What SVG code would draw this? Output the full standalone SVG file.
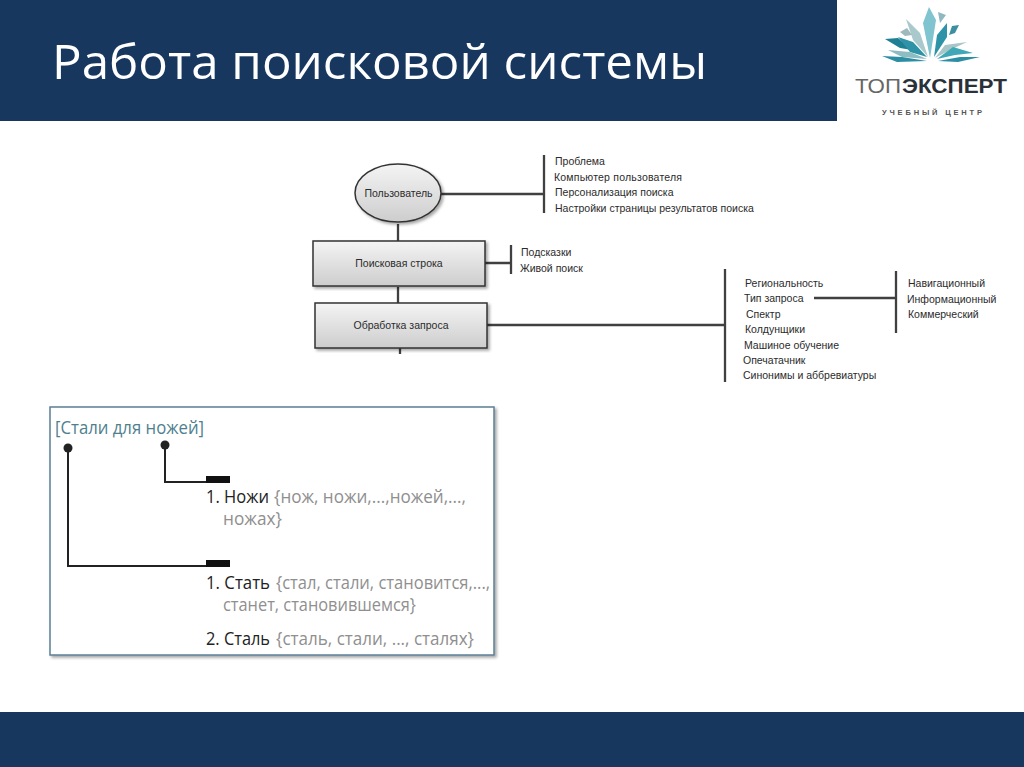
<svg xmlns="http://www.w3.org/2000/svg" width="1024" height="767" viewBox="0 0 1024 767">
<style>
.bar{fill:#17375e}
.t{font-family:"Liberation Sans",Arial,sans-serif;font-size:10.5px;fill:#2b2b2b}
.l{stroke:#404040;stroke-width:2.3;fill:none}
.box{fill:url(#g);stroke:#333;stroke-width:1.5}
.s{font-family:"Open Sans",sans-serif;font-size:17.5px;fill:#8f8f8f}
.b{font-family:"Open Sans",sans-serif;font-size:18px;fill:#222}
.d{fill:#222}
.k{stroke:#222;stroke-width:2;fill:none}
.h{fill:#111}
</style>
<defs>
<linearGradient id="g" x1="0" y1="0" x2="0" y2="1"><stop offset="0" stop-color="#f4f4f4"/><stop offset="1" stop-color="#cdcdcd"/></linearGradient>
<filter id="sh" x="-5%" y="-5%" width="112%" height="115%"><feDropShadow dx="2" dy="2" stdDeviation="1.5" flood-color="#000" flood-opacity=".35"/></filter>
</defs>
<rect width="1024" height="767" fill="#fff"/>
<g id="header"><rect class="bar" width="837" height="121"/>
<text x="52" y="79" font-family="Open Sans,sans-serif" font-size="48" fill="#fff" textLength="655" lengthAdjust="spacingAndGlyphs">Работа поисковой системы</text></g>
<rect id="footer" class="bar" y="712" width="1024" height="55"/>
<g id="logo">
<polygon points="929,7 936,20 930,58 923,23" fill="#7fc4cf"/>
<polygon points="938,12 946,15 940,23" fill="#8fb8c0"/>
<polygon points="906,19 920,33 928,57 913,40" fill="#a9c9cc"/>
<polygon points="947,23 947,37 934,57 937,35" fill="#2f93a8"/>
<polygon points="900,32 907,28 912,35 905,36" fill="#9fb9bd"/>
<polygon points="959,25 955,33 949,35 952,26" fill="#3c8f9f"/>
<polygon points="885,39 898,38 912,50 900,48" fill="#1f7f95"/>
<polygon points="898,37 913,42 927,57 910,52" fill="#2f93a8"/>
<polygon points="967,42 950,50 935,58 945,45" fill="#a8c6c8"/>
<polygon points="888,50 910,52 927,59 902,57" fill="#8dbcc2"/>
<polygon points="973,53 955,55 937,59 953,47" fill="#3fa7b5"/>
<polygon points="882,56 902,57 927,61 897,62" fill="#2b8ea3"/>
<polygon points="980,57 960,57 938,61 958,62" fill="#2b8ea3"/>
<text x="855" y="93" font-family="Liberation Sans,sans-serif" font-size="19.5" fill="#666" textLength="46" lengthAdjust="spacingAndGlyphs">ТОП</text>
<text x="902" y="93" font-family="Liberation Sans,sans-serif" font-size="19.5" fill="#2b3138" font-weight="700" textLength="105" lengthAdjust="spacingAndGlyphs">ЭКСПЕРТ</text>
<text x="882" y="115" font-family="Liberation Sans,sans-serif" font-size="7.5" fill="#555" font-weight="700" textLength="100">УЧЕБНЫЙ ЦЕНТР</text>
</g>
<g id="connectors">
<path class="l" d="M398 224V241M398 287V303M400 348V354M441 194H544M544 155V213M485 263H511M511 245V274M487 325H725M725 269V382M814 298H896M896 271V333"/>
</g>
<g id="n1"><ellipse cx="398" cy="193" rx="43" ry="29" fill="url(#g)" stroke="#333" stroke-width="1.5" filter="url(#sh)"/><text class="t" x="398.500" y="196.500" text-anchor="middle">Пользователь</text></g>
<g id="n2"><rect class="box" x="313" y="241" width="172" height="45" filter="url(#sh)"/><text class="t" x="399" y="266.500" text-anchor="middle">Поисковая строка</text></g>
<g id="n3"><rect class="box" x="315" y="303" width="172" height="45" filter="url(#sh)"/><text class="t" x="401" y="328.500" text-anchor="middle">Обработка запроса</text></g>
<g id="list1"><text class="t" x="555" y="164.500">Проблема</text><text class="t" x="554" y="180.500" textLength="128">Компьютер пользователя</text><text class="t" x="555" y="195.500">Персонализация поиска</text><text class="t" x="555" y="211.500">Настройки страницы результатов поиска</text></g>
<g id="list2"><text class="t" x="521" y="255.500">Подсказки</text><text class="t" x="520" y="271.500">Живой поиск</text></g>
<g id="list3"><text class="t" x="745" y="286.500">Региональность</text><text class="t" x="744" y="301.500">Тип запроса</text><text class="t" x="746" y="317.500">Спектр</text><text class="t" x="745" y="332.500">Колдунщики</text><text class="t" x="744" y="348.500">Машиное обучение</text><text class="t" x="743" y="363.500">Опечатачник</text><text class="t" x="743" y="378.500">Синонимы и аббревиатуры</text></g>
<g id="list4"><text class="t" x="908" y="286.500">Навигационный</text><text class="t" x="907" y="302.500">Информационный</text><text class="t" x="908" y="317.500">Коммерческий</text></g>
<g id="panel"><rect x="50" y="407" width="444" height="248" fill="#fff" stroke="#5b7f95" stroke-width="1.5" filter="url(#sh)"/>
<text x="55" y="434" font-family="Open Sans,sans-serif" font-size="18" fill="#4f7f8f" textLength="149" lengthAdjust="spacingAndGlyphs">[Стали для ножей]</text>
<circle class="d" cx="68" cy="448" r="4.5"/><circle class="d" cx="165" cy="445" r="4.5"/>
<path class="k" d="M68 448V566H206M165 445V482H206"/>
<rect class="h" x="206" y="476" width="24" height="7"/><rect class="h" x="206" y="560" width="24" height="7"/>
<text class="b" x="206" y="503" textLength="63" lengthAdjust="spacingAndGlyphs">1. Ножи</text>
<text class="s" x="274" y="503" textLength="192" lengthAdjust="spacingAndGlyphs">{нож, ножи,...,ножей,...,</text>
<text class="s" x="223" y="525" textLength="59" lengthAdjust="spacingAndGlyphs">ножах}</text>
<text class="b" x="206" y="589" textLength="64" lengthAdjust="spacingAndGlyphs">1. Стать</text>
<text class="s" x="276" y="589" textLength="214" lengthAdjust="spacingAndGlyphs">{стал, стали, становится,...,</text>
<text class="s" x="223" y="611" textLength="193" lengthAdjust="spacingAndGlyphs">станет, становившемся}</text>
<text class="b" x="206" y="645" textLength="64" lengthAdjust="spacingAndGlyphs">2. Сталь</text>
<text class="s" x="276" y="645" textLength="198" lengthAdjust="spacingAndGlyphs">{сталь, стали, ..., сталях}</text>
</g>
</svg>
